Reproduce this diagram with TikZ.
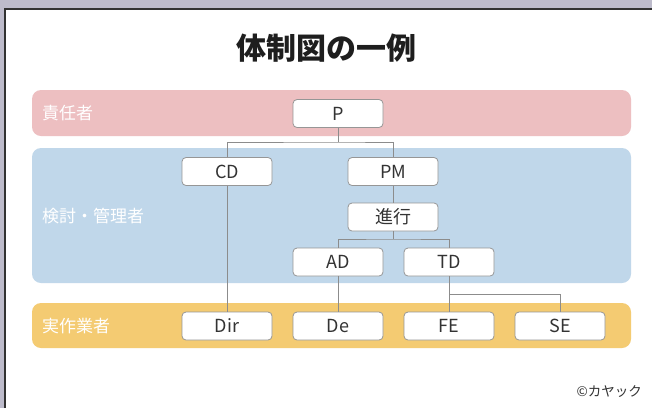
\documentclass[tikz,border=0pt]{standalone}
\usepackage{fontspec}
\setmainfont{Noto Sans CJK JP}
\definecolor{outerbg}{RGB}{189,187,203}
\definecolor{frame}{RGB}{50,50,50}
\definecolor{bandpink}{RGB}{237,191,193}
\definecolor{bandblue}{RGB}{192,215,234}
\definecolor{bandyellow}{RGB}{244,203,114}
\definecolor{boxline}{RGB}{150,150,150}
\definecolor{conn}{RGB}{140,140,140}
\definecolor{boxtext}{RGB}{51,51,51}
\definecolor{titletext}{RGB}{30,30,30}
\tikzset{
  rolebox/.style={draw=boxline, line width=0.8pt, fill=white, rounded corners=4pt,
    minimum width=90pt, minimum height=28pt, inner sep=0pt,
    text=boxtext, font=\fontsize{18}{21}\selectfont},
  band/.style={rounded corners=9pt},
  bandlabel/.style={anchor=west, text=white, inner sep=0pt, font=\fontsize{17}{20}\selectfont},
  connector/.style={draw=conn, line width=0.8pt}
}
\begin{document}
\begin{tikzpicture}[x=1pt, y=-1pt]
  % background and panel
  \fill[outerbg] (0,0) rectangle (652,408);
  \useasboundingbox (0,0) rectangle (652,408);
  \fill[white] (5,9) rectangle (652,408);
  \draw[frame, line width=1.6pt] (5,408) -- (5,9) -- (652,9);

  % title
  \node[text=titletext, font=\fontsize{30}{34}\bfseries] (title) at (326,48) {体制図の一例};

  % bands
  \fill[bandpink, band] (32,90) rectangle (631,136);
  \fill[bandblue, band] (32,148) rectangle (631,283);
  \fill[bandyellow, band] (32,303) rectangle (631,348);

  \node[bandlabel] (lab1) at (42,113) {責任者};
  \node[bandlabel] (lab2) at (42,216) {検討・管理者};
  \node[bandlabel] (lab3) at (42,326) {実作業者};

  % boxes
  \node[rolebox] (P) at (338,113.5) {P};
  \node[rolebox] (CD) at (227,171.5) {CD};
  \node[rolebox] (PM) at (393,171.5) {PM};
  \node[rolebox] (SK) at (393,217) {進行};
  \node[rolebox] (AD) at (338,262) {AD};
  \node[rolebox] (TD) at (449,262) {TD};
  \node[rolebox] (Dir) at (227,326) {Dir};
  \node[rolebox] (De) at (338,326) {De};
  \node[rolebox] (FE) at (449,326) {FE};
  \node[rolebox] (SE) at (560,326) {SE};

  % junctions
  \coordinate (j1) at (338,142);
  \coordinate (j2) at (393,239);
  \coordinate (j3) at (449,294);

  % connectors
  \path[connector] (P.south) -- (j1);
  \path[connector] (CD.north) |- (j1) -| (PM.north);
  \path[connector] (PM.south) -- (SK.north);
  \path[connector] (SK.south) -- (j2);
  \path[connector] (AD.north) |- (j2) -| (TD.north);
  \path[connector] (CD.south) -- (Dir.north);
  \path[connector] (AD.south) -- (De.north);
  \path[connector] (TD.south) -- (FE.north);
  \path[connector] (j3) -| (SE.north);

  % credit
  \node[anchor=east, text=boxtext, inner sep=0pt, font=\fontsize{13.5}{15}\selectfont] (credit) at (642,392) {©カヤック};
\end{tikzpicture}
\end{document}
